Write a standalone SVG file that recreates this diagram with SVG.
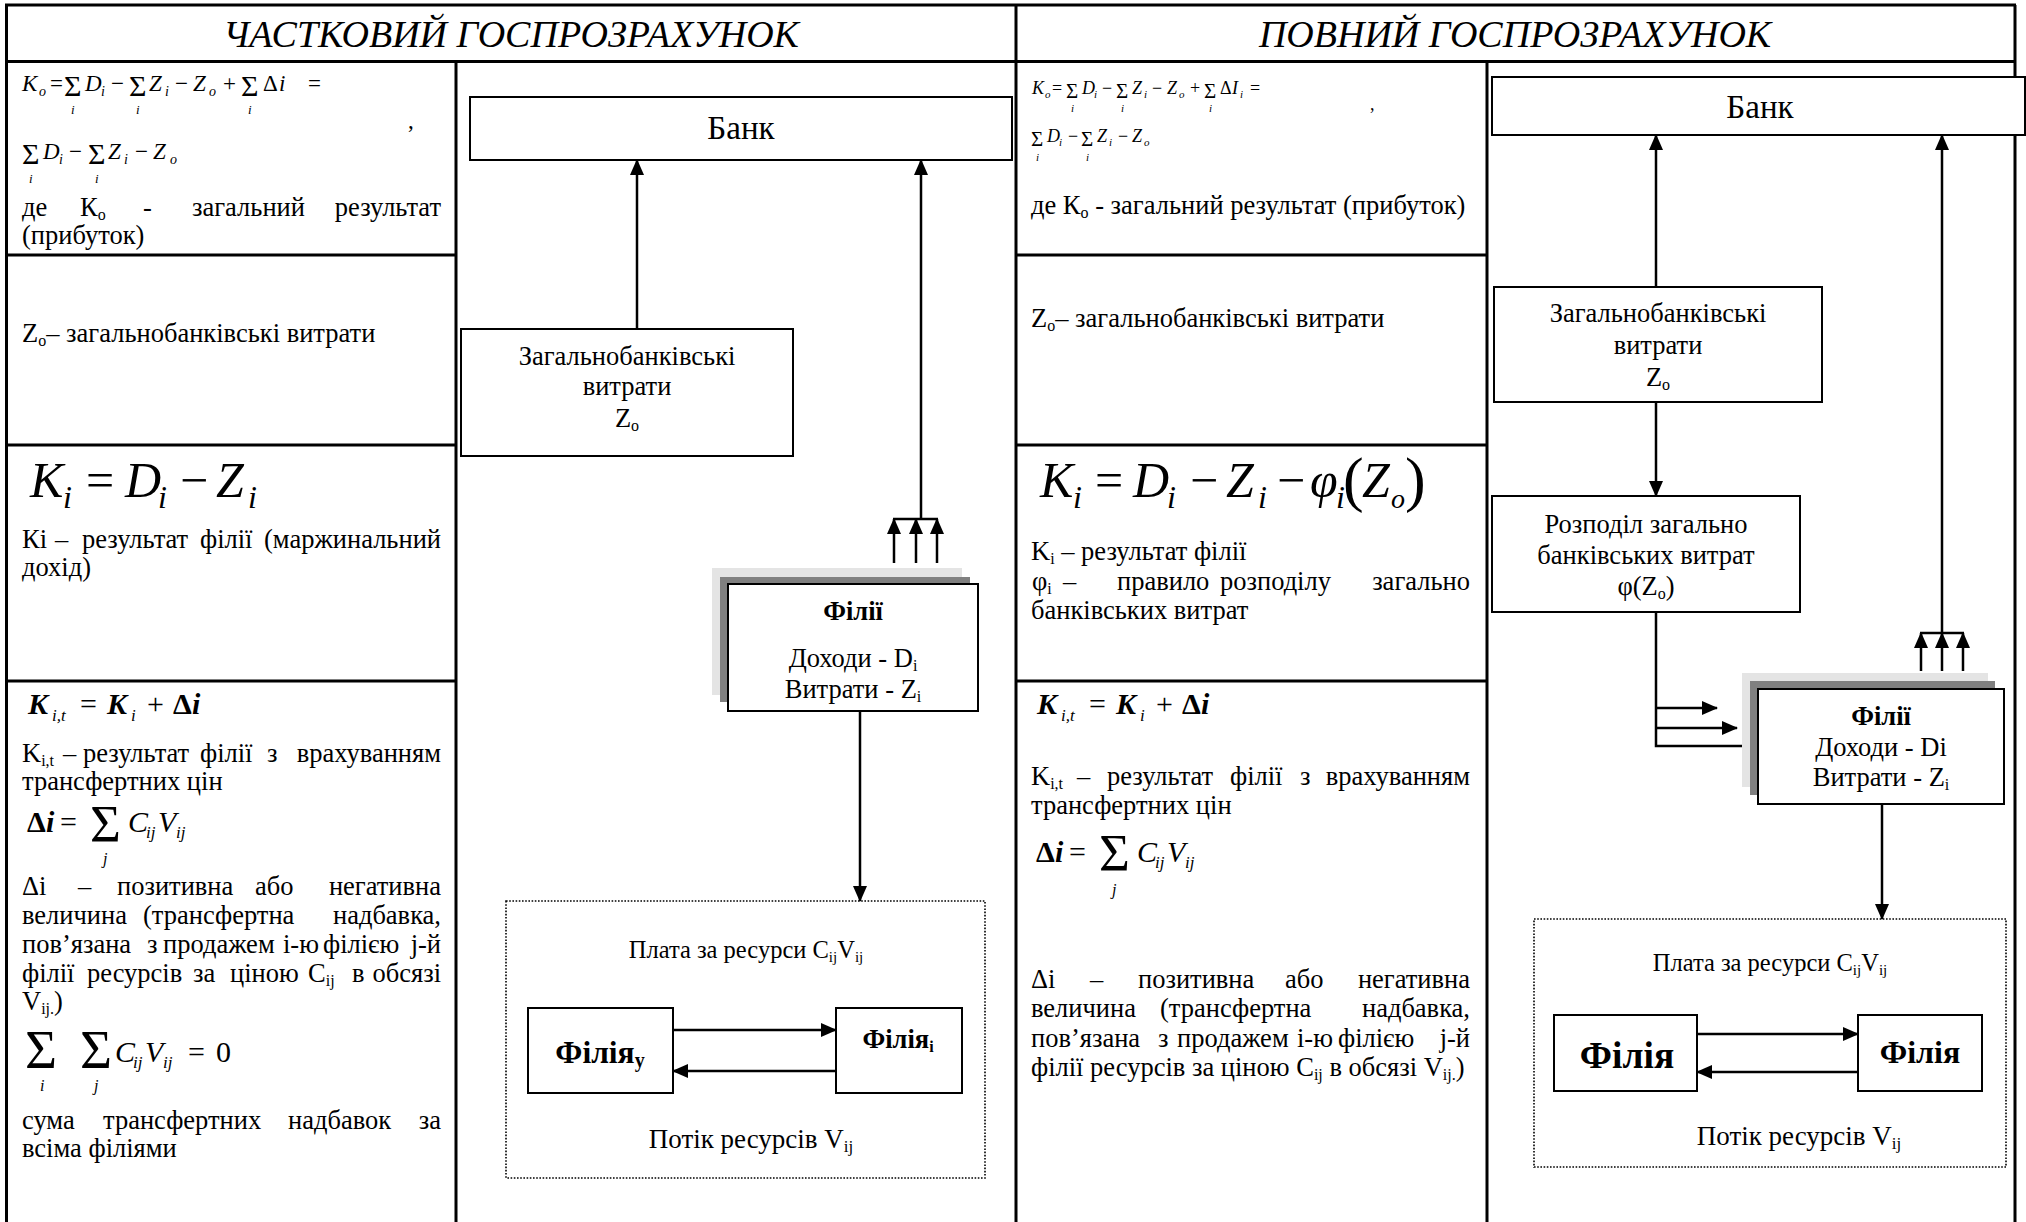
<svg xmlns="http://www.w3.org/2000/svg" width="2026" height="1222" viewBox="0 0 2026 1222">
<style>
  text { font-family: "Liberation Serif", "Times New Roman", serif; fill: #000; }
  .c { font-size: 26.5px; }
  .d { font-size: 26.5px; text-anchor: middle; }
  .ttl { font-size: 38px; font-style: italic; text-anchor: middle; }
  .it { font-style: italic; }
  .up { font-style: normal; }
  .b { font-weight: bold; }
  .e { text-anchor: end; }
  .grid { stroke: #000; stroke-width: 3; fill: none; }
  .box { fill: #fff; stroke: #000; stroke-width: 2; }
  .con { stroke: #000; stroke-width: 2.5; fill: none; }
  .arr { marker-end: url(#ah); }
  .dot { fill: none; stroke: #000; stroke-width: 1.6; stroke-dasharray: 1.6 1.6; }
  .sh1 { fill: #e4e4e4; }
  .sh2 { fill: #808080; }
</style>
<defs>
  <marker id="ah" viewBox="0 0 16 14" markerWidth="16" markerHeight="14" refX="15" refY="7" orient="auto" markerUnits="userSpaceOnUse">
    <path d="M0,0 L16,7 L0,14 z" fill="#000"/>
  </marker>
</defs>
<rect width="2026" height="1222" fill="#fff"/>

<!-- table grid -->
<g id="table" class="grid">
  <path d="M5 5 H2016 M5 61.5 H2016 M6.5 5 V1222 M2015 5 V1222 M1016 5 V1222 M456 61 V1222 M1487 61 V1222"/>
  <path d="M6.5 255 H456 M6.5 445 H456 M6.5 681 H456"/>
  <path d="M1016 255 H1487 M1016 445 H1487 M1016 681 H1487"/>
</g>

<text class="ttl" x="511" y="47">ЧАСТКОВИЙ ГОСПРОЗРАХУНОК</text>
<text class="ttl" x="1515" y="47">ПОВНИЙ ГОСПРОЗРАХУНОК</text>

<!-- ===== left text column ===== -->
<g id="left-notes">
  <text font-size="23" class="it">
    <tspan x="22" y="91">K</tspan><tspan x="39" y="96" font-size="14">o</tspan>
    <tspan x="50" y="91" class="up">=</tspan>
    <tspan x="64" y="96" font-size="30" class="up">Σ</tspan><tspan x="71" y="114" font-size="13">i</tspan>
    <tspan x="85" y="91">D</tspan><tspan x="101" y="96" font-size="14">i</tspan>
    <tspan x="111" y="91" class="up">−</tspan>
    <tspan x="129" y="96" font-size="30" class="up">Σ</tspan><tspan x="136" y="114" font-size="13">i</tspan>
    <tspan x="149" y="91">Z</tspan><tspan x="165" y="96" font-size="14">i</tspan>
    <tspan x="175" y="91" class="up">−</tspan>
    <tspan x="193" y="91">Z</tspan><tspan x="209" y="96" font-size="14">o</tspan>
    <tspan x="223" y="91" class="up">+</tspan>
    <tspan x="241" y="96" font-size="30" class="up">Σ</tspan><tspan x="248" y="114" font-size="13">i</tspan>
    <tspan x="263" y="91" class="up">Δ</tspan><tspan x="279" y="91">i</tspan>
    <tspan x="308" y="91" class="up">=</tspan>
    <tspan x="408" y="128" class="up">,</tspan>
  </text>
  <text font-size="23" class="it">
    <tspan x="22" y="164" font-size="30" class="up">Σ</tspan><tspan x="29" y="183" font-size="13">i</tspan>
    <tspan x="43" y="159">D</tspan><tspan x="59" y="164" font-size="14">i</tspan>
    <tspan x="69" y="159" class="up">−</tspan>
    <tspan x="88" y="164" font-size="30" class="up">Σ</tspan><tspan x="95" y="183" font-size="13">i</tspan>
    <tspan x="108" y="159">Z</tspan><tspan x="124" y="164" font-size="14">i</tspan>
    <tspan x="135" y="159" class="up">−</tspan>
    <tspan x="153" y="159">Z</tspan><tspan x="170" y="164" font-size="14">o</tspan>
  </text>
  <text class="c"><tspan x="22" y="216">де</tspan><tspan x="80" y="216">К</tspan><tspan font-size="16" dy="4">о</tspan><tspan x="143" y="216">-</tspan><tspan x="192" y="216">загальний</tspan></text>
  <text class="c e" x="441" y="216">результат</text>
  <text class="c" x="22" y="244">(прибуток)</text>

  <text class="c" x="22" y="342">Z<tspan font-size="16" dy="4">o</tspan><tspan dy="-4">– загальнобанківські витрати</tspan></text>

  <text font-size="50" class="it">
    <tspan x="30" y="497">K</tspan><tspan x="63" y="508" font-size="32">i</tspan>
    <tspan x="86" y="497" class="up">=</tspan>
    <tspan x="125" y="497">D</tspan><tspan x="158" y="508" font-size="32">i</tspan>
    <tspan x="180" y="497" class="up">−</tspan>
    <tspan x="216" y="497">Z</tspan><tspan x="248" y="508" font-size="32">i</tspan>
  </text>
  <text class="c"><tspan x="22" y="548">Кі</tspan><tspan x="55" y="548">–</tspan><tspan x="82" y="548">результат</tspan><tspan x="200" y="548">філії</tspan></text>
  <text class="c e" x="441" y="548">(маржинальний</text>
  <text class="c" x="22" y="576">дохід)</text>

  <text font-size="30" class="it b">
    <tspan x="28" y="714">K</tspan><tspan x="52" y="721" font-size="17" font-weight="normal">i,t</tspan>
    <tspan x="80" y="714" class="up" font-weight="normal">=</tspan>
    <tspan x="107" y="714">K</tspan><tspan x="131" y="721" font-size="17" font-weight="normal">i</tspan>
    <tspan x="147" y="714" class="up" font-weight="normal">+</tspan>
    <tspan x="173" y="714" class="up">Δ</tspan><tspan x="192" y="714">i</tspan>
  </text>
  <text class="c"><tspan x="22" y="762">K</tspan><tspan font-size="16" dy="4">i,t</tspan><tspan x="63" y="762">–</tspan><tspan x="83" y="762">результат</tspan><tspan x="200" y="762">філії</tspan><tspan x="267" y="762">з</tspan></text>
  <text class="c e" x="441" y="762">врахуванням</text>
  <text class="c" x="22" y="790">трансфертних цін</text>

  <text font-size="30" class="it">
    <tspan x="27" y="832" class="up b">Δ</tspan><tspan x="46" y="832" class="b">i</tspan>
    <tspan x="60" y="832" class="up">=</tspan>
    <tspan x="90" y="842" font-size="53" class="up">Σ</tspan><tspan x="103" y="864" font-size="16">j</tspan>
    <tspan x="128" y="832">C</tspan><tspan x="146" y="838" font-size="17">ij</tspan>
    <tspan x="158" y="832">V</tspan><tspan x="176" y="838" font-size="17">ij</tspan>
  </text>

  <text class="c"><tspan x="22" y="895">Δі</tspan><tspan x="78" y="895">–</tspan><tspan x="117" y="895">позитивна</tspan><tspan x="255" y="895">або</tspan></text>
  <text class="c e" x="441" y="895">негативна</text>
  <text class="c"><tspan x="22" y="924">величина</tspan><tspan x="143" y="924">(трансфертна</tspan></text>
  <text class="c e" x="441" y="924">надбавка,</text>
  <text class="c"><tspan x="22" y="953">пов’язана</tspan><tspan x="147" y="953">з</tspan><tspan x="163" y="953">продажем</tspan><tspan x="283" y="953">і-ю</tspan><tspan x="323" y="953">філією</tspan></text>
  <text class="c e" x="441" y="953">j-й</text>
  <text class="c"><tspan x="22" y="982">філії</tspan><tspan x="87" y="982">ресурсів</tspan><tspan x="193" y="982">за</tspan><tspan x="230" y="982">ціною</tspan><tspan x="308" y="982">C</tspan><tspan font-size="16" dy="4">ij</tspan><tspan x="352" y="982">в</tspan></text>
  <text class="c e" x="441" y="982">обсязі</text>
  <text class="c" x="22" y="1010">V<tspan font-size="16" dy="4">ij</tspan><tspan font-size="16">.</tspan><tspan dy="-4">)</tspan></text>

  <text font-size="30" class="it">
    <tspan x="25" y="1068" font-size="55" class="up">Σ</tspan><tspan x="40" y="1091" font-size="16">i</tspan>
    <tspan x="80" y="1068" font-size="55" class="up">Σ</tspan><tspan x="94" y="1091" font-size="16">j</tspan>
    <tspan x="115" y="1062">C</tspan><tspan x="133" y="1068" font-size="17">ij</tspan>
    <tspan x="145" y="1062">V</tspan><tspan x="163" y="1068" font-size="17">ij</tspan>
    <tspan x="188" y="1062" class="up">=</tspan>
    <tspan x="216" y="1062" class="up">0</tspan>
  </text>
  <text class="c"><tspan x="22" y="1129">сума</tspan><tspan x="103" y="1129">трансфертних</tspan><tspan x="288" y="1129">надбавок</tspan></text>
  <text class="c e" x="441" y="1129">за</text>
  <text class="c" x="22" y="1157">всіма філіями</text>
</g>

<!-- ===== right text column ===== -->
<g id="right-notes">
  <text font-size="18" class="it">
    <tspan x="1032" y="94">K</tspan><tspan x="1045" y="98" font-size="11">o</tspan>
    <tspan x="1052" y="94" class="up">=</tspan>
    <tspan x="1066" y="98" font-size="21" class="up">Σ</tspan><tspan x="1071" y="112" font-size="11">i</tspan>
    <tspan x="1082" y="94">D</tspan><tspan x="1094" y="98" font-size="11">i</tspan>
    <tspan x="1102" y="94" class="up">−</tspan>
    <tspan x="1116" y="98" font-size="21" class="up">Σ</tspan><tspan x="1121" y="112" font-size="11">i</tspan>
    <tspan x="1132" y="94">Z</tspan><tspan x="1144" y="98" font-size="11">i</tspan>
    <tspan x="1152" y="94" class="up">−</tspan>
    <tspan x="1167" y="94">Z</tspan><tspan x="1179" y="98" font-size="11">o</tspan>
    <tspan x="1190" y="94" class="up">+</tspan>
    <tspan x="1204" y="98" font-size="21" class="up">Σ</tspan><tspan x="1209" y="112" font-size="11">i</tspan>
    <tspan x="1220" y="94" class="up">Δ</tspan><tspan x="1232" y="94">I</tspan><tspan x="1240" y="98" font-size="11">i</tspan>
    <tspan x="1250" y="94" class="up">=</tspan>
    <tspan x="1370" y="110" class="up">,</tspan>
  </text>
  <text font-size="18" class="it">
    <tspan x="1031" y="146" font-size="21" class="up">Σ</tspan><tspan x="1036" y="161" font-size="11">i</tspan>
    <tspan x="1047" y="142">D</tspan><tspan x="1059" y="146" font-size="11">i</tspan>
    <tspan x="1068" y="142" class="up">−</tspan>
    <tspan x="1081" y="146" font-size="21" class="up">Σ</tspan><tspan x="1086" y="161" font-size="11">i</tspan>
    <tspan x="1097" y="142">Z</tspan><tspan x="1109" y="146" font-size="11">i</tspan>
    <tspan x="1118" y="142" class="up">−</tspan>
    <tspan x="1132" y="142">Z</tspan><tspan x="1144" y="146" font-size="11">o</tspan>
  </text>
  <text class="c" x="1031" y="214">де К<tspan font-size="16" dy="4">о</tspan><tspan dy="-4"> - загальний результат (прибуток)</tspan></text>

  <text class="c" x="1031" y="327">Z<tspan font-size="16" dy="4">o</tspan><tspan dy="-4">– загальнобанківські витрати</tspan></text>

  <text font-size="50" class="it">
    <tspan x="1040" y="497">K</tspan><tspan x="1073" y="508" font-size="32">i</tspan>
    <tspan x="1095" y="497" class="up">=</tspan>
    <tspan x="1133" y="497">D</tspan><tspan x="1167" y="508" font-size="32">i</tspan>
    <tspan x="1190" y="497" class="up">−</tspan>
    <tspan x="1226" y="497">Z</tspan><tspan x="1258" y="508" font-size="32">i</tspan>
    <tspan x="1277" y="497" class="up">−</tspan>
    <tspan x="1310" y="497">φ</tspan><tspan x="1336" y="508" font-size="32">i</tspan>
  </text>
  <text font-size="50" class="it">
    <tspan x="1343" y="500" font-size="62" class="up">(</tspan>
    <tspan x="1362" y="497">Z</tspan><tspan x="1391" y="508" font-size="28">o</tspan>
    <tspan x="1405" y="500" font-size="62" class="up">)</tspan>
  </text>
  <text class="c" x="1031" y="560">K<tspan font-size="16" dy="4">i</tspan><tspan dy="-4"> – результат філії</tspan></text>
  <text class="c"><tspan x="1032" y="590">φ</tspan><tspan font-size="16" dy="4">i</tspan><tspan x="1063" y="590">–</tspan><tspan x="1117" y="590">правило</tspan><tspan x="1220" y="590">розподілу</tspan></text>
  <text class="c e" x="1470" y="590">загально</text>
  <text class="c" x="1031" y="619">банківських витрат</text>

  <text font-size="30" class="it b">
    <tspan x="1037" y="714">K</tspan><tspan x="1061" y="721" font-size="17" font-weight="normal">i,t</tspan>
    <tspan x="1089" y="714" class="up" font-weight="normal">=</tspan>
    <tspan x="1116" y="714">K</tspan><tspan x="1140" y="721" font-size="17" font-weight="normal">i</tspan>
    <tspan x="1156" y="714" class="up" font-weight="normal">+</tspan>
    <tspan x="1182" y="714" class="up">Δ</tspan><tspan x="1201" y="714">i</tspan>
  </text>
  <text class="c"><tspan x="1031" y="785">K</tspan><tspan font-size="16" dy="4">i,t</tspan><tspan x="1077" y="785">–</tspan><tspan x="1107" y="785">результат</tspan><tspan x="1230" y="785">філії</tspan><tspan x="1300" y="785">з</tspan></text>
  <text class="c e" x="1470" y="785">врахуванням</text>
  <text class="c" x="1031" y="814">трансфертних цін</text>

  <text font-size="30" class="it">
    <tspan x="1036" y="862" class="up b">Δ</tspan><tspan x="1055" y="862" class="b">i</tspan>
    <tspan x="1069" y="862" class="up">=</tspan>
    <tspan x="1099" y="871" font-size="53" class="up">Σ</tspan><tspan x="1112" y="895" font-size="16">j</tspan>
    <tspan x="1137" y="862">C</tspan><tspan x="1155" y="868" font-size="17">ij</tspan>
    <tspan x="1167" y="862">V</tspan><tspan x="1185" y="868" font-size="17">ij</tspan>
  </text>

  <text class="c"><tspan x="1031" y="988">Δі</tspan><tspan x="1090" y="988">–</tspan><tspan x="1138" y="988">позитивна</tspan><tspan x="1285" y="988">або</tspan></text>
  <text class="c e" x="1470" y="988">негативна</text>
  <text class="c"><tspan x="1031" y="1017">величина</tspan><tspan x="1160" y="1017">(трансфертна</tspan></text>
  <text class="c e" x="1470" y="1017">надбавка,</text>
  <text class="c"><tspan x="1031" y="1047">пов’язана</tspan><tspan x="1158" y="1047">з</tspan><tspan x="1177" y="1047">продажем</tspan><tspan x="1297" y="1047">і-ю</tspan><tspan x="1338" y="1047">філією</tspan></text>
  <text class="c e" x="1470" y="1047">j-й</text>
  <text class="c" x="1031" y="1076">філії ресурсів за ціною C<tspan font-size="16" dy="4">ij</tspan><tspan dy="-4"> в обсязі V</tspan><tspan font-size="16" dy="4">ij</tspan><tspan font-size="16">.</tspan><tspan dy="-4">)</tspan></text>
</g>

<!-- ===== connectors ===== -->
<g id="connectors" class="con">
  <!-- partial: left scheme -->
  <path class="arr" d="M637 329 V160"/>
  <path class="arr" d="M921 519 V160"/>
  <path d="M893 519 H938"/>
  <path class="arr" d="M894 563 V519"/>
  <path class="arr" d="M916 563 V519"/>
  <path class="arr" d="M937 563 V519"/>
  <path class="arr" d="M860 711 V901"/>
  <path class="arr" d="M671 1030 H836"/>
  <path class="arr" d="M836 1071 H673"/>
  <!-- full: right scheme -->
  <path class="arr" d="M1656 287 V135"/>
  <path class="arr" d="M1942 633 V135"/>
  <path d="M1920 633 H1964"/>
  <path class="arr" d="M1921 671 V633"/>
  <path class="arr" d="M1942 671 V633"/>
  <path class="arr" d="M1963 671 V633"/>
  <path class="arr" d="M1656 402 V496"/>
  <path class="arr" d="M1656 612 V746 H1758"/>
  <path class="arr" d="M1656 708 H1717"/>
  <path class="arr" d="M1656 728 H1737"/>
  <path class="arr" d="M1882 804 V919"/>
  <path class="arr" d="M1693 1034 H1858"/>
  <path class="arr" d="M1858 1072 H1697"/>
</g>

<!-- ===== nodes: partial scheme ===== -->
<g id="bank-partial">
  <rect class="box" x="470" y="97" width="542" height="63"/>
  <text class="d" x="741" y="139" style="font-size:33px">Банк</text>
</g>
<g id="overhead-partial">
  <rect class="box" x="461" y="329" width="332" height="127"/>
  <text class="d" x="627" y="365">Загальнобанківські</text>
  <text class="d" x="627" y="395">витрати</text>
  <text class="d" x="627" y="427">Z<tspan font-size="16" dy="4">o</tspan></text>
</g>
<g id="branches-partial">
  <rect class="sh1" x="712" y="568" width="250" height="127"/>
  <rect class="sh2" x="720" y="577" width="250" height="125"/>
  <rect class="box" x="728" y="584" width="250" height="127"/>
  <text class="d b" x="853" y="620">Філії</text>
  <text class="d" x="853" y="667">Доходи - D<tspan font-size="16" dy="4">i</tspan></text>
  <text class="d" x="853" y="698">Витрати - Z<tspan font-size="16" dy="4">i</tspan></text>
</g>
<g id="exchange-partial">
  <rect class="dot" x="506" y="901" width="479" height="277"/>
  <text class="d" x="746" y="958" style="font-size:24.5px">Плата за ресурси C<tspan font-size="15" dy="4">ij</tspan><tspan dy="-4">V</tspan><tspan font-size="15" dy="4">ij</tspan></text>
  <text class="d" x="751" y="1148" style="font-size:27px">Потік ресурсів V<tspan font-size="17" dy="4">ij</tspan></text>
</g>
<g id="branch-y-partial">
  <rect class="box" x="528" y="1008" width="145" height="85"/>
  <text class="d b" x="600" y="1063" style="font-size:31.5px">Філія<tspan font-size="20" dy="4">у</tspan></text>
</g>
<g id="branch-i-partial">
  <rect class="box" x="836" y="1008" width="126" height="85"/>
  <text class="d b" x="898" y="1048">Філія<tspan font-size="16" dy="4">і</tspan></text>
</g>

<!-- ===== nodes: full scheme ===== -->
<g id="bank-full">
  <rect class="box" x="1492" y="77" width="533" height="58"/>
  <text class="d" x="1760" y="118" style="font-size:33px">Банк</text>
</g>
<g id="overhead-full">
  <rect class="box" x="1494" y="287" width="328" height="115"/>
  <text class="d" x="1658" y="322">Загальнобанківські</text>
  <text class="d" x="1658" y="354">витрати</text>
  <text class="d" x="1658" y="386">Z<tspan font-size="16" dy="4">o</tspan></text>
</g>
<g id="allocation-full">
  <rect class="box" x="1492" y="496" width="308" height="116"/>
  <text class="d" x="1646" y="533">Розподіл загально</text>
  <text class="d" x="1646" y="564">банківських витрат</text>
  <text class="d" x="1646" y="595">φ(Z<tspan font-size="16" dy="4">o</tspan><tspan dy="-4">)</tspan></text>
</g>
<g id="branches-full">
  <rect class="sh1" x="1742" y="673" width="246" height="114"/>
  <rect class="sh2" x="1750" y="681" width="245" height="114"/>
  <rect class="box" x="1758" y="689" width="246" height="115"/>
  <text class="d b" x="1881" y="725">Філії</text>
  <text class="d" x="1881" y="756">Доходи - Di</text>
  <text class="d" x="1881" y="786">Витрати - Z<tspan font-size="16" dy="4">i</tspan></text>
</g>
<g id="exchange-full">
  <rect class="dot" x="1534" y="919" width="472" height="248"/>
  <text class="d" x="1770" y="971" style="font-size:24.5px">Плата за ресурси C<tspan font-size="15" dy="4">ij</tspan><tspan dy="-4">V</tspan><tspan font-size="15" dy="4">ij</tspan></text>
  <text class="d" x="1799" y="1145" style="font-size:27px">Потік ресурсів V<tspan font-size="17" dy="4">ij</tspan></text>
</g>
<g id="branch-a-full">
  <rect class="box" x="1554" y="1015" width="143" height="76"/>
  <text class="d b" x="1627" y="1068" style="font-size:37.5px">Філія</text>
</g>
<g id="branch-b-full">
  <rect class="box" x="1858" y="1015" width="124" height="76"/>
  <text class="d b" x="1920" y="1063" style="font-size:32px">Філія</text>
</g>
</svg>
